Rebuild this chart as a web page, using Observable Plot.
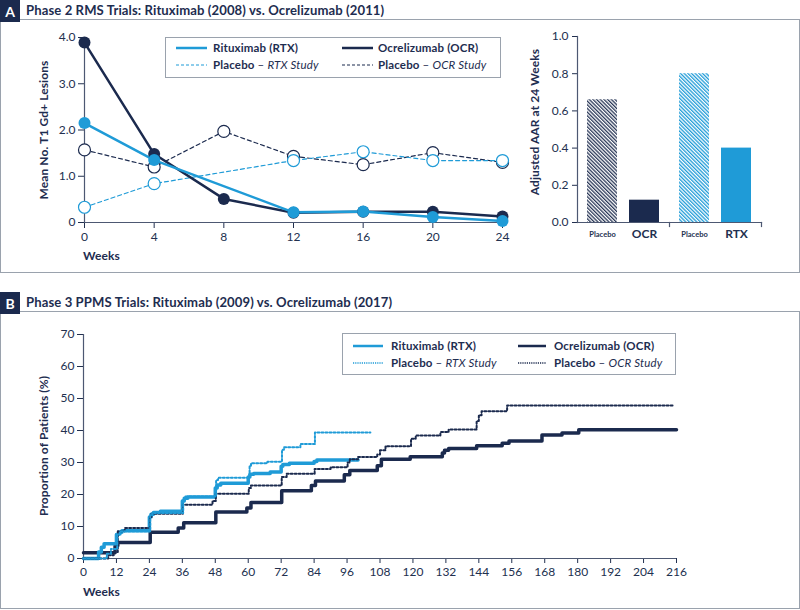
<!DOCTYPE html>
<html><head><meta charset="utf-8">
<script src="https://cdn.jsdelivr.net/npm/d3@7"></script>
<script src="https://cdn.jsdelivr.net/npm/@observablehq/plot@0.6"></script>
<style>
body{margin:0;background:#fff;font-family:Lato,"Open Sans",sans-serif;color:#1e2d50}
#root{position:relative;width:800px;height:610px;overflow:hidden;background:#fff}
.frame{position:absolute;border:1.5px solid #9aa2ad;box-sizing:border-box}
.badge{position:absolute;background:#1b2a4e;color:#fff;font-weight:700;font-size:14px;display:flex;align-items:center;justify-content:center}
.title{position:absolute;font-size:13.1px;font-weight:700;white-space:nowrap;line-height:1;letter-spacing:0.1px}
.legend{position:absolute;border:1.2px solid #9aa2ad;box-sizing:border-box;background:#fff}
.lg{position:absolute;font-size:11.5px;white-space:nowrap;line-height:1;display:flex;align-items:center;font-weight:700;letter-spacing:0.15px}
.lg i{font-weight:400}
.lg .n{font-weight:400}
.axl{position:absolute;font-size:12px;font-weight:700;white-space:nowrap;line-height:1;letter-spacing:0.1px}
.rot{transform:translate(-50%,-50%) rotate(-90deg)}
.plot{position:absolute}
</style></head>
<body>
<div id="root">
<svg width="0" height="0" style="position:absolute">
  <defs>
    <pattern id="hatchNavy" width="2.6" height="2.6" patternUnits="userSpaceOnUse" patternTransform="rotate(-45)">
      <rect width="2.6" height="2.6" fill="#fff"/><rect width="1.3" height="2.6" fill="#2a3858"/>
    </pattern>
    <pattern id="hatchBlue" width="2.6" height="2.6" patternUnits="userSpaceOnUse" patternTransform="rotate(-45)">
      <rect width="2.6" height="2.6" fill="#fff"/><rect width="1.3" height="2.6" fill="#1f9bd7"/>
    </pattern>
  </defs>
</svg>
</div>
<script>
// ---------- Panel A data ----------
const weeksA = [0, 4, 8, 12, 16, 20, 24];
const rtxLesions        = [2.15, 1.35, null, 0.22, 0.24, 0.12, 0.03];
const ocrLesions        = [3.89, 1.48, 0.51, 0.21, 0.23, 0.23, 0.13];
const placeboRtxLesions = [0.33, 0.84, null, 1.34, 1.53, 1.34, 1.34];
const placeboOcrLesions = [1.57, 1.20, 1.97, 1.43, 1.25, 1.51, 1.30];

const aarLabels  = ["Placebo", "OCR", "Placebo", "RTX"];
const aarStudies = ["OCR", "OCR", "RTX", "RTX"];
const aarValues  = [0.66, 0.12, 0.80, 0.40];

// ---------- Panel B data (Kaplan-Meier style step curves) ----------
const rtxWeeks = [0, 5.5, 6.5, 7.5, 12, 12.8, 14, 24, 24.6, 25.5, 28, 36, 36.7, 38, 48, 48.7, 50, 60, 60.6, 62, 68, 72, 72.6, 75, 84, 85, 100];
const rtxPct   = [0, 2, 3.5, 4.6, 7.5, 8.2, 8.7, 13, 13.8, 14.4, 14.8, 18, 18.8, 19.2, 22, 23, 23.5, 25.5, 26.3, 26.6, 27, 28.8, 29.4, 29.8, 30.3, 30.8, 30.8];
const plRtxWeeks = [0, 8.5, 10, 12.3, 13.5, 24.3, 25, 36.3, 37, 48.3, 49, 60.5, 61, 67, 72.3, 73, 79, 84.3, 104.5];
const plRtxPct   = [0, 1.5, 3, 7.5, 8.5, 13.5, 14.2, 18.5, 19.4, 24.5, 25.2, 29, 29.8, 30.2, 34, 34.8, 35.8, 39.4, 39.4];
const ocrWeeks = [0, 11.5, 12.5, 24.3, 34.5, 36.5, 48.2, 59.5, 61, 72.2, 83, 84.5, 95, 97, 107, 108.5, 119, 130.7, 131.5, 133, 143.2, 152.5, 155, 167, 174.3, 180.4, 216];
const ocrPct   = [1.8, 4, 5, 8.2, 9.5, 11.2, 14.5, 15.8, 17.5, 21.2, 22.8, 24.2, 26.2, 27.5, 29, 31, 31.8, 33, 33.8, 34.4, 35.2, 36, 36.7, 38.6, 39.2, 40.2, 40.2];
const plOcrWeeks = [0, 9, 11, 12.5, 15, 24.2, 24.8, 36.2, 47, 48.2, 60.2, 61, 72.2, 74, 84.2, 90, 96.2, 97, 100, 107, 108, 110, 119.3, 121, 130, 133, 143.2, 144, 145, 154.3, 215];
const plOcrPct   = [0, 1, 2, 8.5, 9.5, 13, 14, 16.8, 18, 20.2, 22, 22.8, 25.5, 26.5, 28, 28.5, 30, 31, 31.7, 32.5, 33.8, 35.1, 37.4, 38.4, 39.5, 40.3, 43, 44.8, 46, 47.8, 47.8];

const yTicksB = [0, 10, 20, 30, 40, 50, 60, 70];
const xTicksB = d3.range(0, 217, 12);

// ---------- styles ----------
const NAVY = "#1b2a4e", BLUE = "#1f9bd7", AXIS = "#4d5872", TXT = "#22304f";
const FONT = "Lato, 'Open Sans', sans-serif";
const root = document.getElementById("root");

function rows(xs, ys) { return xs.map((x, i) => ({x, y: ys[i]})).filter(d => d.y != null); }
function place(el, left, top) { el.classList.add("plot"); el.style.left = left + "px"; el.style.top = top + "px"; root.appendChild(el); return el; }
function div(cls, html, css) { const d = document.createElement("div"); d.className = cls; d.innerHTML = html; Object.assign(d.style, css); root.appendChild(d); return d; }

// ---------- frames & headers ----------
div("frame", "", {left: "0px", top: "19px", width: "800px", height: "254px"});
div("frame", "", {left: "0px", top: "311px", width: "800px", height: "298px"});
div("badge", "A", {left: "0px", top: "0px", width: "20px", height: "22px"});
div("title", "Phase 2 RMS Trials: Rituximab (2008) vs. Ocrelizumab (2011)", {left: "26px", top: "4px"});
div("badge", "B", {left: "0px", top: "292px", width: "20px", height: "22px"});
div("title", "Phase 3 PPMS Trials: Rituximab (2009) vs. Ocrelizumab (2017)", {left: "26px", top: "296px"});

const baseStyle = {fontFamily: FONT, fontSize: "12px", color: TXT, background: "none", overflow: "visible"};

// ---------- Panel A: lesions line chart ----------
const rtxA = rows(weeksA, rtxLesions), ocrA = rows(weeksA, ocrLesions);
const plRtxA = rows(weeksA, placeboRtxLesions), plOcrA = rows(weeksA, placeboOcrLesions);
const chartA = Plot.plot({
  width: 520, height: 250, marginLeft: 84, marginRight: 18, marginTop: 17, marginBottom: 48,
  style: baseStyle,
  x: {domain: [0, 24], ticks: weeksA, tickSize: 6, tickPadding: 4, label: null},
  y: {domain: [0, 4], ticks: [0, 1, 2, 3, 4], tickFormat: d => d === 0 ? "0" : d.toFixed(1), tickSize: 6, tickPadding: 3, label: null},
  marks: [
    Plot.ruleX([0], {stroke: AXIS, strokeWidth: 1.2}),
    Plot.ruleY([0], {stroke: AXIS, strokeWidth: 1.2}),
    Plot.lineY(plOcrA, {x: "x", y: "y", stroke: NAVY, strokeWidth: 1.2, strokeDasharray: "4,3"}),
    Plot.lineY(plRtxA, {x: "x", y: "y", stroke: BLUE, strokeWidth: 1.2, strokeDasharray: "4,3"}),
    Plot.lineY(ocrA, {x: "x", y: "y", stroke: NAVY, strokeWidth: 2.5}),
    Plot.lineY(rtxA, {x: "x", y: "y", stroke: BLUE, strokeWidth: 2.5}),
    Plot.dot(plOcrA, {x: "x", y: "y", r: 6, fill: "white", stroke: NAVY, strokeWidth: 1.2}),
    Plot.dot(plRtxA, {x: "x", y: "y", r: 6, fill: "white", stroke: BLUE, strokeWidth: 1.2}),
    Plot.dot(ocrA, {x: "x", y: "y", r: 6, fill: NAVY}),
    Plot.dot(rtxA, {x: "x", y: "y", r: 6, fill: BLUE})
  ]
});
place(chartA, 0, 20);

// ---------- Panel A: AAR bar chart (two study groups) ----------
const aarRows = aarLabels.map((label, i) => ({label, study: aarStudies[i], value: aarValues[i]}));
const fills = {"OCR|Placebo": "url(#hatchNavy)", "OCR|OCR": NAVY, "RTX|Placebo": "url(#hatchBlue)", "RTX|RTX": BLUE};
function barPlot(study, first) {
  const data = aarRows.filter(d => d.study === study);
  return Plot.plot({
    width: first ? 155 : 137, height: 250,
    marginLeft: first ? 57 : 6, marginRight: first ? 6 : 39, marginTop: 16, marginBottom: 48,
    style: baseStyle,
    x: {domain: data.map(d => d.label), paddingInner: 0.28, paddingOuter: 0.22, axis: null},
    y: {domain: [0, 1], ticks: [0, 0.2, 0.4, 0.6, 0.8, 1.0], tickFormat: ".1f", tickSize: 5, tickPadding: 4, label: null, axis: first ? "left" : null},
    marks: [
      Plot.barY(data, {x: "label", y: "value", fill: d => fills[d.study + "|" + d.label]}),
      first ? Plot.frame({anchor: "left", stroke: AXIS, strokeWidth: 1.2}) : null,
      Plot.frame({anchor: "bottom", stroke: AXIS, strokeWidth: 1.2}),
      Plot.frame({anchor: "right", stroke: AXIS, strokeWidth: 1.2, insetTop: 186, insetBottom: -4}),
      Plot.text(data, {x: "label", y: 0, text: "label", dy: 12, fill: TXT, fontWeight: "bold",
        fontSize: d => d.label === "Placebo" ? 7.5 : 12})
    ]
  });
}
place(barPlot("OCR", true), 520, 20);
place(barPlot("RTX", false), 663, 20);

// ---------- Panel B: time-to-progression curves ----------
const chartB = Plot.plot({
  width: 800, height: 290, marginLeft: 83, marginRight: 124, marginTop: 24, marginBottom: 42,
  style: baseStyle,
  x: {domain: [0, 216], ticks: xTicksB, tickSize: 5, tickPadding: 4, label: null},
  y: {domain: [0, 70], ticks: yTicksB, tickSize: 6, tickPadding: 3, label: null},
  marks: [
    Plot.ruleX([0], {stroke: AXIS, strokeWidth: 1.2}),
    Plot.ruleY([0], {stroke: AXIS, strokeWidth: 1.2}),
    Plot.lineY(rows(ocrWeeks, ocrPct), {x: "x", y: "y", curve: "step-after", stroke: NAVY, strokeWidth: 3.5}),
    Plot.lineY(rows(rtxWeeks, rtxPct), {x: "x", y: "y", curve: "step-after", stroke: BLUE, strokeWidth: 3.5}),
    Plot.lineY(rows(plOcrWeeks, plOcrPct), {x: "x", y: "y", curve: "step-after", stroke: NAVY, strokeWidth: 2, strokeDasharray: "2,2"}),
    Plot.lineY(rows(plRtxWeeks, plRtxPct), {x: "x", y: "y", curve: "step-after", stroke: BLUE, strokeWidth: 2, strokeDasharray: "2,2"})
  ]
});
place(chartB, 0, 310);

// ---------- axis titles ----------
div("axl rot", "Mean No. T1 Gd+ Lesions", {left: "44px", top: "130px"});
div("axl", "Weeks", {left: "83px", top: "250px"});
div("axl rot", "Adjusted AAR at 24 Weeks", {left: "535px", top: "122px"});
div("axl rot", "Proportion of Patients (%)", {left: "44px", top: "446px"});
div("axl", "Weeks", {left: "83px", top: "586px"});

// ---------- legends ----------
function legend(box, items) {
  const lg = div("legend", "", {left: box.x + "px", top: box.y + "px", width: box.w + "px", height: box.h + "px"});
  items.forEach(it => {
    const e = document.createElement("div");
    e.className = "lg";
    e.style.left = it.x + "px"; e.style.top = (it.y - 6) + "px"; e.style.height = "12px";
    e.innerHTML = `<svg width="${it.len}" height="6" style="margin-right:${it.gap}px;overflow:visible"><line x1="0" x2="${it.len}" y1="3" y2="3" stroke="${it.color}" stroke-width="${it.sw}" ${it.dash ? `stroke-dasharray="${it.dash}"` : ""}/></svg><span>` + it.html + `</span>`;
    lg.appendChild(e);
  });
}
legend({x: 165, y: 37, w: 336, h: 41}, [
  {x: 10, y: 10, len: 31, gap: 6, color: BLUE, sw: 2.5, html: "Rituximab (RTX)"},
  {x: 176, y: 10, len: 31, gap: 5, color: NAVY, sw: 2.5, html: "Ocrelizumab (OCR)"},
  {x: 10, y: 27, len: 31, gap: 6, color: BLUE, sw: 1.2, dash: "3,2", html: "Placebo <span class='n'>– <i>RTX Study</i></span>"},
  {x: 176, y: 27, len: 31, gap: 5, color: NAVY, sw: 1.2, dash: "3,2", html: "Placebo <span class='n'>– <i>OCR Study</i></span>"}
]);
legend({x: 342, y: 333, w: 334, h: 42}, [
  {x: 10, y: 12, len: 30, gap: 8, color: BLUE, sw: 2.5, html: "Rituximab (RTX)"},
  {x: 175, y: 12, len: 28, gap: 8, color: NAVY, sw: 2.5, html: "Ocrelizumab (OCR)"},
  {x: 10, y: 29, len: 30, gap: 8, color: BLUE, sw: 1.3, dash: "1.2,1", html: "Placebo <span class='n'>– <i>RTX Study</i></span>"},
  {x: 175, y: 29, len: 28, gap: 8, color: NAVY, sw: 1.3, dash: "1.2,1", html: "Placebo <span class='n'>– <i>OCR Study</i></span>"}
]);
</script>
</body></html>
